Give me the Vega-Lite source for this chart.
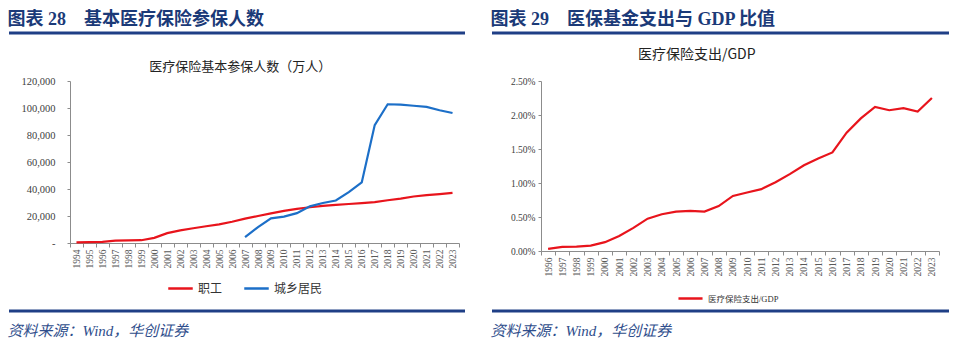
{
  "$schema": "https://vega.github.io/schema/vega-lite/v6.json",
  "background": "white",
  "padding": {"left": 7, "top": 11, "right": 0, "bottom": 0},
  "config": {
    "view": {"stroke": null},
    "font": "Liberation Serif, Noto Sans CJK SC",
    "axis": {"domainColor": "#8c8c8c", "tickColor": "#8c8c8c", "labelColor": "#404040", "labelFont": "Liberation Serif", "grid": false, "title": null},
    "legend": {"labelFont": "Liberation Serif, Noto Sans CJK SC", "labelColor": "#333333", "padding": 0}
  },
  "datasets": {
    "decor": [{"a": 0, "b": 1}],
    "members": [
      {"year": "1994", "series": "职工", "value": 400},
      {"year": "1995", "series": "职工", "value": 703},
      {"year": "1996", "series": "职工", "value": 856},
      {"year": "1997", "series": "职工", "value": 1762},
      {"year": "1998", "series": "职工", "value": 1878},
      {"year": "1999", "series": "职工", "value": 2065},
      {"year": "2000", "series": "职工", "value": 3787},
      {"year": "2001", "series": "职工", "value": 7286},
      {"year": "2002", "series": "职工", "value": 9400},
      {"year": "2003", "series": "职工", "value": 10902},
      {"year": "2004", "series": "职工", "value": 12404},
      {"year": "2005", "series": "职工", "value": 13783},
      {"year": "2006", "series": "职工", "value": 15732},
      {"year": "2007", "series": "职工", "value": 18020},
      {"year": "2008", "series": "职工", "value": 19996},
      {"year": "2009", "series": "职工", "value": 21937},
      {"year": "2010", "series": "职工", "value": 23735},
      {"year": "2011", "series": "职工", "value": 25227},
      {"year": "2012", "series": "职工", "value": 26486},
      {"year": "2013", "series": "职工", "value": 27443},
      {"year": "2014", "series": "职工", "value": 28296},
      {"year": "2015", "series": "职工", "value": 28893},
      {"year": "2016", "series": "职工", "value": 29532},
      {"year": "2017", "series": "职工", "value": 30323},
      {"year": "2018", "series": "职工", "value": 31681},
      {"year": "2019", "series": "职工", "value": 32925},
      {"year": "2020", "series": "职工", "value": 34455},
      {"year": "2021", "series": "职工", "value": 35431},
      {"year": "2022", "series": "职工", "value": 36243},
      {"year": "2023", "series": "职工", "value": 37095},
      {"year": "2007", "series": "城乡居民", "value": 4291},
      {"year": "2008", "series": "城乡居民", "value": 11826},
      {"year": "2009", "series": "城乡居民", "value": 18210},
      {"year": "2010", "series": "城乡居民", "value": 19528},
      {"year": "2011", "series": "城乡居民", "value": 22116},
      {"year": "2012", "series": "城乡居民", "value": 27156},
      {"year": "2013", "series": "城乡居民", "value": 29629},
      {"year": "2014", "series": "城乡居民", "value": 31451},
      {"year": "2015", "series": "城乡居民", "value": 37689},
      {"year": "2016", "series": "城乡居民", "value": 44860},
      {"year": "2017", "series": "城乡居民", "value": 87359},
      {"year": "2018", "series": "城乡居民", "value": 102778},
      {"year": "2019", "series": "城乡居民", "value": 102483},
      {"year": "2020", "series": "城乡居民", "value": 101676},
      {"year": "2021", "series": "城乡居民", "value": 100866},
      {"year": "2022", "series": "城乡居民", "value": 98349},
      {"year": "2023", "series": "城乡居民", "value": 96294}
    ],
    "ratio": [
      {"year": "1996", "series": "医疗保险支出/GDP", "value": 0.0003},
      {"year": "1997", "series": "医疗保险支出/GDP", "value": 0.0006},
      {"year": "1998", "series": "医疗保险支出/GDP", "value": 0.00065},
      {"year": "1999", "series": "医疗保险支出/GDP", "value": 0.0008},
      {"year": "2000", "series": "医疗保险支出/GDP", "value": 0.0013},
      {"year": "2001", "series": "医疗保险支出/GDP", "value": 0.0022},
      {"year": "2002", "series": "医疗保险支出/GDP", "value": 0.0034},
      {"year": "2003", "series": "医疗保险支出/GDP", "value": 0.00475},
      {"year": "2004", "series": "医疗保险支出/GDP", "value": 0.0054},
      {"year": "2005", "series": "医疗保险支出/GDP", "value": 0.0058},
      {"year": "2006", "series": "医疗保险支出/GDP", "value": 0.0059},
      {"year": "2007", "series": "医疗保险支出/GDP", "value": 0.0058},
      {"year": "2008", "series": "医疗保险支出/GDP", "value": 0.0066},
      {"year": "2009", "series": "医疗保险支出/GDP", "value": 0.0081},
      {"year": "2010", "series": "医疗保险支出/GDP", "value": 0.0086},
      {"year": "2011", "series": "医疗保险支出/GDP", "value": 0.0091},
      {"year": "2012", "series": "医疗保险支出/GDP", "value": 0.0101},
      {"year": "2013", "series": "医疗保险支出/GDP", "value": 0.0113},
      {"year": "2014", "series": "医疗保险支出/GDP", "value": 0.0126},
      {"year": "2015", "series": "医疗保险支出/GDP", "value": 0.0136},
      {"year": "2016", "series": "医疗保险支出/GDP", "value": 0.0145},
      {"year": "2017", "series": "医疗保险支出/GDP", "value": 0.0174},
      {"year": "2018", "series": "医疗保险支出/GDP", "value": 0.0195},
      {"year": "2019", "series": "医疗保险支出/GDP", "value": 0.0212},
      {"year": "2020", "series": "医疗保险支出/GDP", "value": 0.0207},
      {"year": "2021", "series": "医疗保险支出/GDP", "value": 0.0210},
      {"year": "2022", "series": "医疗保险支出/GDP", "value": 0.0205},
      {"year": "2023", "series": "医疗保险支出/GDP", "value": 0.0225}
    ]
  },
  "resolve": {"scale": {"color": "independent"}},
  "columns": 1,
  "align": "none",
  "spacing": 5,
  "concat": [
    {
      "spacing": 23,
      "hconcat": [
        {
          "width": 395, "height": 0,
          "title": {"text": "图表 28　基本医疗保险参保人数", "anchor": "start", "frame": "bounds", "fontSize": 18, "fontWeight": "bold", "color": "#1B3A78", "font": "Liberation Serif, Noto Sans CJK SC", "offset": -6},
          "data": {"name": "decor"},
          "mark": {"type": "rule", "color": "#1F3F86", "strokeWidth": 3},
          "encoding": {
            "x": {"field": "a", "type": "quantitative", "scale": {"domain": [0, 1], "range": [-61, 395]}, "axis": null},
            "x2": {"field": "b"}
          }
        },
        {
          "width": 457, "height": 0,
          "title": {"text": "图表 29　医保基金支出与 GDP 比值", "anchor": "start", "frame": "bounds", "fontSize": 18, "fontWeight": "bold", "color": "#1B3A78", "font": "Liberation Serif, Noto Sans CJK SC", "offset": -6},
          "data": {"name": "decor"},
          "mark": {"type": "rule", "color": "#1F3F86", "strokeWidth": 3},
          "encoding": {
            "x": {"field": "a", "type": "quantitative", "scale": {"domain": [0, 1]}, "axis": null},
            "x2": {"field": "b"}
          }
        }
      ]
    },
    {
      "resolve": {"scale": {"color": "independent"}},
      "columns": 1,
      "align": "none",
      "spacing": -3,
      "concat": [
        {
          "resolve": {"scale": {"color": "independent"}},
          "spacing": 30,
          "hconcat": [
            {
              "width": 389, "height": 162,
              "title": {"text": "医疗保险基本参保人数（万人）", "fontSize": 13, "fontWeight": "normal", "color": "#222222", "font": "Noto Sans CJK SC", "anchor": "middle", "frame": "bounds", "dx": 6, "offset": 2},
              "data": {"name": "members"},
              "mark": {"type": "line", "strokeWidth": 2.2},
              "encoding": {
                "x": {"field": "year", "type": "ordinal", "bandPosition": 0.5,
                  "scale": {"type": "band", "paddingInner": 0, "paddingOuter": 0},
                  "axis": {"labelAngle": -90, "labelFontSize": 9.5, "labelColor": "#595959", "tickBand": "extent", "tickSize": 4, "labelPadding": 2}},
                "y": {"field": "value", "type": "quantitative", "scale": {"domain": [0, 120000]},
                  "axis": {"values": [0, 20000, 40000, 60000, 80000, 100000, 120000], "labelExpr": "datum.value == 0 ? '-' : format(datum.value, ',')", "labelFontSize": 10.5, "tickSize": 3, "labelPadding": 12, "minExtent": 61}},
                "color": {"field": "series", "type": "nominal",
                  "scale": {"domain": ["职工", "城乡居民"], "range": ["#E8141C", "#1C6FC8"]},
                  "legend": {"title": null, "orient": "none", "legendX": 97, "legendY": 194, "direction": "horizontal", "gridAlign": "none", "symbolType": "stroke", "symbolSize": 600, "symbolStrokeWidth": 2.5, "labelFontSize": 12, "labelOffset": 4, "columnPadding": 16}}
              }
            },
            {
              "width": 398, "height": 170,
              "title": {"text": "医疗保险支出/GDP", "fontSize": 14, "fontWeight": "normal", "color": "#222222", "font": "Noto Sans CJK SC", "anchor": "middle", "frame": "bounds", "dx": -18, "offset": 14},
              "data": {"name": "ratio"},
              "mark": {"type": "line", "strokeWidth": 2.2},
              "encoding": {
                "x": {"field": "year", "type": "ordinal", "bandPosition": 0.5,
                  "scale": {"type": "band", "paddingInner": 0, "paddingOuter": 0},
                  "axis": {"labelAngle": -90, "labelFontSize": 9.5, "labelColor": "#595959", "tickBand": "extent", "tickSize": 4, "labelPadding": 2}},
                "y": {"field": "value", "type": "quantitative", "scale": {"domain": [0, 0.025]},
                  "axis": {"values": [0, 0.005, 0.01, 0.015, 0.02, 0.025], "format": ".2%", "labelFontSize": 9.5, "tickSize": 3, "labelPadding": 3, "minExtent": 51}},
                "color": {"field": "series", "type": "nominal",
                  "scale": {"domain": ["医疗保险支出/GDP"], "range": ["#E8141C"]},
                  "legend": {"title": null, "orient": "none", "legendX": 136, "legendY": 204, "direction": "horizontal", "symbolType": "stroke", "symbolSize": 580, "symbolStrokeWidth": 2.5, "labelFontSize": 8.5, "labelOffset": 4}}
              }
            }
          ]
        },
        {
          "spacing": 23,
          "hconcat": [
            {
              "width": 395, "height": 0,
              "title": {"text": "资料来源：Wind，华创证券", "orient": "bottom", "anchor": "start", "frame": "bounds", "fontSize": 15, "fontWeight": "normal", "fontStyle": "italic", "color": "#2F4E8C", "font": "Liberation Serif, Noto Sans CJK SC", "offset": 3},
              "data": {"name": "decor"},
              "mark": {"type": "rule", "color": "#1F3F86", "strokeWidth": 3},
              "encoding": {
                "x": {"field": "a", "type": "quantitative", "scale": {"domain": [0, 1], "range": [-61, 395]}, "axis": null},
                "x2": {"field": "b"}
              }
            },
            {
              "width": 457, "height": 0,
              "title": {"text": "资料来源：Wind，华创证券", "orient": "bottom", "anchor": "start", "frame": "bounds", "fontSize": 15, "fontWeight": "normal", "fontStyle": "italic", "color": "#2F4E8C", "font": "Liberation Serif, Noto Sans CJK SC", "offset": 3},
              "data": {"name": "decor"},
              "mark": {"type": "rule", "color": "#1F3F86", "strokeWidth": 3},
              "encoding": {
                "x": {"field": "a", "type": "quantitative", "scale": {"domain": [0, 1]}, "axis": null},
                "x2": {"field": "b"}
              }
            }
          ]
        }
      ]
    }
  ]
}
